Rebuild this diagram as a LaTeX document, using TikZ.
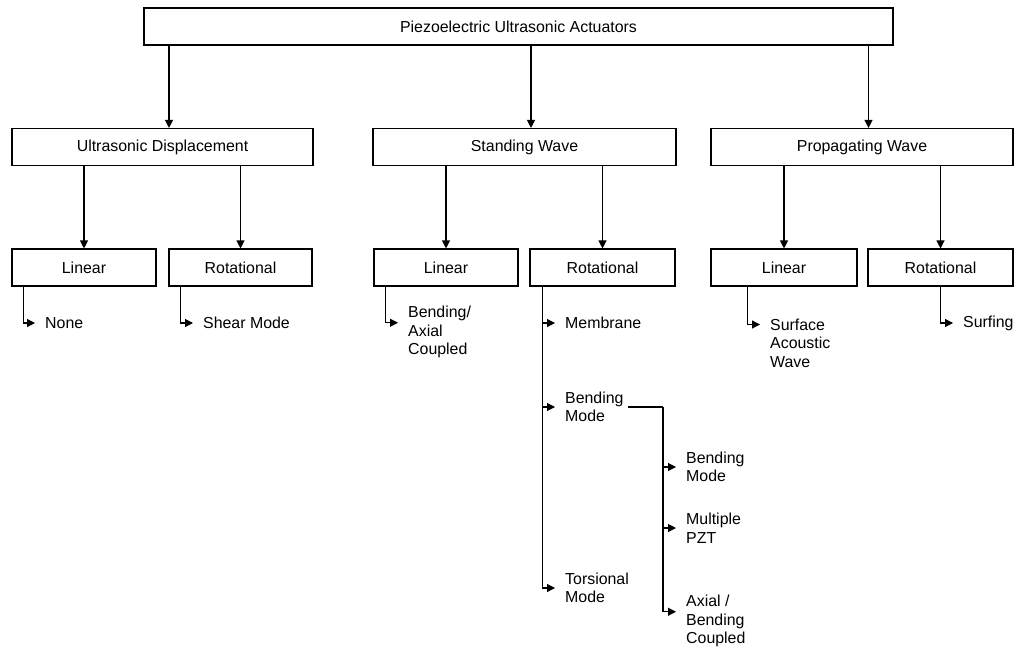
\documentclass[tikz,border=0pt]{standalone}
\usepackage{fontspec}
\setmainfont{Liberation Sans}
\usetikzlibrary{arrows.meta,positioning}
\newcommand{\diagfont}{\fontsize{15.9}{18.5}\selectfont}

\begin{document}
\begin{tikzpicture}[x=1pt,y=1pt,
  box/.style={draw,line width=1.1pt,minimum height=37pt,inner sep=0pt,font=\diagfont},
  leaf/.style={anchor=west,align=left,inner xsep=10pt,inner ysep=0pt,font=\diagfont},
  arr/.style={line width=1.1pt,-{Triangle[length=8pt,width=8pt]}},
  link/.style={line width=1.1pt}]
\useasboundingbox (0,0) rectangle (1016,-650);
% Boxes
\node[box,minimum width=749pt] (pua) at (518.5,-26.5) {Piezoelectric Ultrasonic Actuators};
\node[box,minimum width=301pt] (ud) at (162.5,-147) {Ultrasonic Displacement};
\node[box,minimum width=303pt] (sw) at (524.5,-147) {Standing Wave};
\node[box,minimum width=302pt] (pw) at (862,-147) {Propagating Wave};
\node[box,minimum width=144pt] (udlin) at (84,-267.5) {Linear};
\node[box,minimum width=143pt] (udrot) at (240.5,-267.5) {Rotational};
\node[box,minimum width=144pt] (swlin) at (446,-267.5) {Linear};
\node[box,minimum width=145pt] (swrot) at (602.5,-267.5) {Rotational};
\node[box,minimum width=146pt] (pwlin) at (784,-267.5) {Linear};
\node[box,minimum width=145pt] (pwrot) at (940.5,-267.5) {Rotational};
% Leaves
\node[leaf] (none) at (35,-323) {None};
\node[leaf] (shear) at (193,-323) {Shear Mode};
\node[leaf] (bac) at (398,-332) {Bending/\\Axial\\Coupled};
\node[leaf] (membrane) at (555,-323) {Membrane};
\node[leaf] (bm) at (555,-407) {Bending\\Mode};
\node[leaf] (tm) at (555,-588) {Torsional\\Mode};
\node[leaf] (saw) at (760,-343) {Surface\\Acoustic\\Wave};
\node[leaf] (surfing) at (953,-323) {Surfing};
\node[leaf] (bm2) at (676,-467) {Bending\\Mode};
\node[leaf] (pzt) at (676,-528) {Multiple\\PZT};
\node[leaf] (abc) at (676,-621) {Axial /\\Bending\\Coupled};
% Arrows between boxes
\foreach \n in {ud,sw,pw}
  \draw[arr] ([xshift=6.5pt]\n.north |- pua.south) -- ([xshift=6.5pt]\n.north);
\foreach \p/\c in {ud/udlin,ud/udrot,sw/swlin,sw/swrot,pw/pwlin,pw/pwrot}
  \draw[arr] (\c.north |- \p.south) -- (\c);
% Branches to leaves
\coordinate (udlinx) at ([xshift=12pt]udlin.south west);
\coordinate (udrotx) at ([xshift=12pt]udrot.south west);
\coordinate (swlinx) at ([xshift=12pt]swlin.south west);
\coordinate (swrotx) at ([xshift=13pt]swrot.south west);
\coordinate (pwlinx) at ([xshift=37pt]pwlin.south west);
\draw[arr] (udlinx) |- (none);
\draw[arr] (udrotx) |- (shear);
\draw[arr] (swlinx) |- ([yshift=9.25pt]bac.west);
\draw[arr] (swrotx) |- (tm);
\draw[arr] (swrotx |- membrane) -- (membrane);
\draw[arr] (swrotx |- bm) -- (bm);
\draw[arr] (pwlinx) |- ([yshift=18.5pt]saw.west);
\draw[arr] (pwrot.south) |- (surfing);
% Bending mode sub-branch
\coordinate (bmx) at (663,-407);
\draw[link] ([xshift=-6pt]bm.east) -- (bmx);
\draw[arr] (bmx) |- ([yshift=9.25pt]abc.west);
\draw[arr] (bmx |- bm2) -- (bm2);
\draw[arr] (bmx |- pzt) -- (pzt);
\end{tikzpicture}
\end{document}
